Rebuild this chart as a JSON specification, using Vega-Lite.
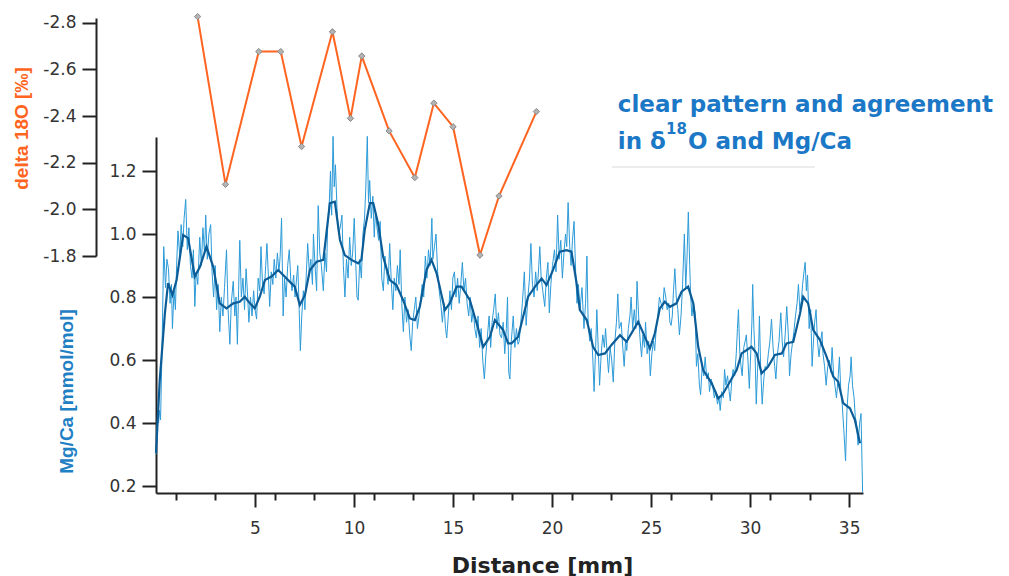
{
  "$schema": "https://vega.github.io/schema/vega-lite/v6.json",
  "width": 707,
  "height": 475,
  "autosize": {"type": "none"},
  "padding": {"left": 156, "top": 18, "right": 146, "bottom": 83},
  "background": "white",
  "config": {"view": {"stroke": null}, "axis": {"grid": false}},
  "datasets": {
    "d18o": [
      {"d": 2.10, "o": -2.826}, {"d": 3.51, "o": -2.107}, {"d": 5.19, "o": -2.676}, {"d": 6.30, "o": -2.676},
      {"d": 7.35, "o": -2.269}, {"d": 8.91, "o": -2.761}, {"d": 9.82, "o": -2.390}, {"d": 10.39, "o": -2.657},
      {"d": 11.77, "o": -2.336}, {"d": 13.07, "o": -2.136}, {"d": 14.03, "o": -2.455}, {"d": 15.00, "o": -2.354},
      {"d": 16.36, "o": -1.804}, {"d": 17.32, "o": -2.057}, {"d": 19.21, "o": -2.419}
    ],
    "notes": [
      {"t": "clear pattern and agreement"}
    ],
    "mgs": [
      {"d":0.00,"v":0.305},{"d":0.19,"v":0.537},{"d":0.45,"v":0.749},{"d":0.61,"v":0.844},{"d":0.83,"v":0.806},
      {"d":1.04,"v":0.854},{"d":1.37,"v":0.997},{"d":1.62,"v":0.987},{"d":1.96,"v":0.865},{"d":2.22,"v":0.896},
      {"d":2.55,"v":0.960},{"d":2.89,"v":0.896},{"d":3.22,"v":0.780},{"d":3.56,"v":0.764},{"d":3.90,"v":0.780},
      {"d":4.23,"v":0.785},{"d":4.48,"v":0.801},{"d":4.74,"v":0.780},{"d":4.99,"v":0.764},{"d":5.24,"v":0.801},
      {"d":5.50,"v":0.854},{"d":5.83,"v":0.865},{"d":6.17,"v":0.886},{"d":6.42,"v":0.870},{"d":6.75,"v":0.849},
      {"d":7.01,"v":0.833},{"d":7.26,"v":0.775},{"d":7.52,"v":0.806},{"d":7.77,"v":0.886},{"d":8.11,"v":0.912},
      {"d":8.45,"v":0.918},{"d":8.78,"v":1.098},{"d":9.03,"v":1.103},{"d":9.29,"v":0.981},{"d":9.53,"v":0.933},
      {"d":9.87,"v":0.918},{"d":10.21,"v":0.907},{"d":10.37,"v":0.918},{"d":10.54,"v":1.013},{"d":10.80,"v":1.098},
      {"d":10.97,"v":1.098},{"d":11.21,"v":1.034},{"d":11.47,"v":0.928},{"d":11.81,"v":0.854},{"d":12.14,"v":0.838},
      {"d":12.48,"v":0.790},{"d":12.82,"v":0.732},{"d":13.07,"v":0.727},{"d":13.32,"v":0.769},{"d":13.66,"v":0.886},
      {"d":13.91,"v":0.918},{"d":14.17,"v":0.875},{"d":14.59,"v":0.759},{"d":14.83,"v":0.780},{"d":15.18,"v":0.833},
      {"d":15.43,"v":0.833},{"d":15.85,"v":0.790},{"d":16.19,"v":0.717},{"d":16.52,"v":0.642},{"d":16.86,"v":0.674},
      {"d":17.11,"v":0.727},{"d":17.53,"v":0.695},{"d":17.78,"v":0.653},{"d":17.95,"v":0.653},{"d":18.29,"v":0.674},
      {"d":18.54,"v":0.738},{"d":18.79,"v":0.801},{"d":19.14,"v":0.833},{"d":19.47,"v":0.859},{"d":19.72,"v":0.838},
      {"d":20.05,"v":0.886},{"d":20.39,"v":0.944},{"d":20.73,"v":0.949},{"d":20.98,"v":0.944},{"d":21.24,"v":0.843},
      {"d":21.40,"v":0.759},{"d":21.75,"v":0.727},{"d":22.07,"v":0.642},{"d":22.33,"v":0.616},{"d":22.67,"v":0.621},
      {"d":23.00,"v":0.648},{"d":23.43,"v":0.679},{"d":23.76,"v":0.658},{"d":24.10,"v":0.695},{"d":24.35,"v":0.722},
      {"d":24.68,"v":0.674},{"d":24.94,"v":0.637},{"d":25.19,"v":0.685},{"d":25.44,"v":0.764},{"d":25.69,"v":0.785},
      {"d":25.95,"v":0.769},{"d":26.28,"v":0.780},{"d":26.54,"v":0.817},{"d":26.87,"v":0.833},{"d":27.13,"v":0.780},
      {"d":27.38,"v":0.642},{"d":27.63,"v":0.568},{"d":28.06,"v":0.526},{"d":28.39,"v":0.478},{"d":28.64,"v":0.494},
      {"d":28.98,"v":0.531},{"d":29.32,"v":0.568},{"d":29.57,"v":0.621},{"d":29.83,"v":0.632},{"d":30.07,"v":0.642},
      {"d":30.33,"v":0.621},{"d":30.58,"v":0.558},{"d":30.91,"v":0.579},{"d":31.25,"v":0.616},{"d":31.60,"v":0.621},
      {"d":31.84,"v":0.653},{"d":32.18,"v":0.658},{"d":32.52,"v":0.748},{"d":32.68,"v":0.801},{"d":32.93,"v":0.780},
      {"d":33.19,"v":0.695},{"d":33.52,"v":0.664},{"d":33.86,"v":0.611},{"d":34.20,"v":0.547},{"d":34.45,"v":0.531},
      {"d":34.70,"v":0.463},{"d":35.04,"v":0.447},{"d":35.29,"v":0.410},{"d":35.55,"v":0.336}
    ],
    "mg": [
      {"d":0.00,"v":0.30},{"d":0.08,"v":0.42},{"d":0.13,"v":0.40},{"d":0.18,"v":0.44},{"d":0.23,"v":0.41},{"d":0.30,"v":0.62},
      {"d":0.39,"v":0.96},{"d":0.48,"v":0.83},{"d":0.55,"v":0.92},{"d":0.63,"v":0.89},{"d":0.71,"v":0.78},{"d":0.78,"v":0.84},
      {"d":0.83,"v":0.70},{"d":0.91,"v":0.82},{"d":0.98,"v":0.76},{"d":1.04,"v":0.90},{"d":1.11,"v":1.01},{"d":1.20,"v":0.93},
      {"d":1.27,"v":1.03},{"d":1.35,"v":0.96},{"d":1.42,"v":1.05},{"d":1.50,"v":1.11},{"d":1.58,"v":0.95},{"d":1.66,"v":1.02},
      {"d":1.74,"v":0.90},{"d":1.82,"v":0.86},{"d":1.89,"v":0.95},{"d":1.96,"v":0.77},{"d":2.03,"v":0.88},{"d":2.11,"v":0.84},
      {"d":2.21,"v":0.99},{"d":2.29,"v":0.90},{"d":2.37,"v":1.02},{"d":2.45,"v":0.94},{"d":2.51,"v":1.06},{"d":2.59,"v":0.92},
      {"d":2.67,"v":1.00},{"d":2.76,"v":1.03},{"d":2.83,"v":0.88},{"d":2.91,"v":0.80},{"d":2.99,"v":0.90},{"d":3.06,"v":0.76},
      {"d":3.14,"v":0.84},{"d":3.22,"v":0.69},{"d":3.30,"v":0.80},{"d":3.38,"v":0.74},{"d":3.46,"v":0.83},{"d":3.56,"v":0.95},
      {"d":3.64,"v":0.76},{"d":3.73,"v":0.65},{"d":3.80,"v":0.78},{"d":3.90,"v":0.85},{"d":3.98,"v":0.74},{"d":4.04,"v":0.80},
      {"d":4.11,"v":0.65},{"d":4.17,"v":0.82},{"d":4.23,"v":0.98},{"d":4.31,"v":0.80},{"d":4.39,"v":0.86},{"d":4.47,"v":0.76},
      {"d":4.55,"v":0.89},{"d":4.63,"v":0.80},{"d":4.69,"v":0.72},{"d":4.77,"v":0.80},{"d":4.85,"v":0.74},{"d":4.93,"v":0.82},
      {"d":5.00,"v":0.76},{"d":5.08,"v":0.73},{"d":5.16,"v":0.86},{"d":5.24,"v":0.82},{"d":5.30,"v":0.96},{"d":5.38,"v":0.84},
      {"d":5.46,"v":0.81},{"d":5.54,"v":0.90},{"d":5.60,"v":0.97},{"d":5.68,"v":0.86},{"d":5.74,"v":0.77},{"d":5.82,"v":0.88},
      {"d":5.90,"v":0.84},{"d":5.97,"v":0.92},{"d":6.05,"v":0.86},{"d":6.13,"v":0.94},{"d":6.21,"v":0.88},{"d":6.27,"v":0.93},
      {"d":6.34,"v":1.05},{"d":6.42,"v":0.74},{"d":6.49,"v":0.86},{"d":6.57,"v":0.80},{"d":6.65,"v":0.90},{"d":6.73,"v":0.95},
      {"d":6.81,"v":0.85},{"d":6.87,"v":0.82},{"d":6.95,"v":0.87},{"d":7.02,"v":0.80},{"d":7.10,"v":0.86},{"d":7.16,"v":0.90},
      {"d":7.23,"v":0.76},{"d":7.29,"v":0.63},{"d":7.36,"v":0.74},{"d":7.44,"v":0.82},{"d":7.52,"v":0.76},{"d":7.58,"v":0.86},
      {"d":7.66,"v":0.97},{"d":7.74,"v":0.88},{"d":7.82,"v":0.92},{"d":7.90,"v":0.84},{"d":7.95,"v":1.00},{"d":8.03,"v":0.90},
      {"d":8.11,"v":0.82},{"d":8.19,"v":1.09},{"d":8.27,"v":0.94},{"d":8.35,"v":0.90},{"d":8.45,"v":0.82},{"d":8.53,"v":0.94},
      {"d":8.61,"v":0.88},{"d":8.67,"v":1.03},{"d":8.75,"v":1.10},{"d":8.81,"v":1.20},{"d":8.87,"v":1.06},{"d":8.94,"v":1.31},
      {"d":9.00,"v":1.15},{"d":9.06,"v":1.22},{"d":9.14,"v":1.08},{"d":9.22,"v":1.00},{"d":9.30,"v":1.02},{"d":9.39,"v":1.06},
      {"d":9.46,"v":0.90},{"d":9.54,"v":0.80},{"d":9.62,"v":0.92},{"d":9.70,"v":0.86},{"d":9.78,"v":0.99},{"d":9.86,"v":0.90},
      {"d":9.93,"v":0.94},{"d":10.01,"v":1.05},{"d":10.09,"v":0.90},{"d":10.15,"v":0.80},{"d":10.21,"v":0.79},{"d":10.29,"v":0.92},
      {"d":10.37,"v":0.86},{"d":10.45,"v":1.00},{"d":10.53,"v":1.05},{"d":10.59,"v":1.14},{"d":10.67,"v":1.31},{"d":10.73,"v":1.10},
      {"d":10.79,"v":1.17},{"d":10.87,"v":1.05},{"d":10.95,"v":1.12},{"d":11.02,"v":0.99},{"d":11.08,"v":1.07},{"d":11.16,"v":1.02},
      {"d":11.24,"v":0.98},{"d":11.32,"v":1.04},{"d":11.40,"v":0.86},{"d":11.48,"v":0.82},{"d":11.56,"v":0.93},{"d":11.64,"v":0.88},
      {"d":11.72,"v":0.84},{"d":11.80,"v":0.97},{"d":11.88,"v":0.85},{"d":11.96,"v":0.76},{"d":12.03,"v":0.86},{"d":12.11,"v":0.82},
      {"d":12.19,"v":0.90},{"d":12.27,"v":0.84},{"d":12.33,"v":0.95},{"d":12.41,"v":0.78},{"d":12.49,"v":0.69},{"d":12.57,"v":0.80},
      {"d":12.65,"v":0.72},{"d":12.73,"v":0.76},{"d":12.81,"v":0.68},{"d":12.89,"v":0.63},{"d":12.96,"v":0.72},{"d":13.04,"v":0.76},
      {"d":13.12,"v":0.80},{"d":13.20,"v":0.70},{"d":13.28,"v":0.74},{"d":13.36,"v":0.79},{"d":13.44,"v":0.84},{"d":13.52,"v":0.80},
      {"d":13.60,"v":0.93},{"d":13.68,"v":0.86},{"d":13.76,"v":0.95},{"d":13.84,"v":0.90},{"d":13.93,"v":1.05},{"d":13.98,"v":0.92},
      {"d":14.06,"v":0.96},{"d":14.14,"v":1.00},{"d":14.22,"v":0.88},{"d":14.30,"v":0.82},{"d":14.38,"v":0.78},{"d":14.46,"v":0.72},
      {"d":14.54,"v":0.78},{"d":14.62,"v":0.70},{"d":14.68,"v":0.67},{"d":14.76,"v":0.74},{"d":14.84,"v":0.82},{"d":14.92,"v":0.76},
      {"d":14.99,"v":0.86},{"d":15.07,"v":0.88},{"d":15.15,"v":0.80},{"d":15.23,"v":0.86},{"d":15.31,"v":0.78},{"d":15.39,"v":0.84},
      {"d":15.47,"v":0.91},{"d":15.55,"v":0.82},{"d":15.63,"v":0.86},{"d":15.71,"v":0.78},{"d":15.79,"v":0.74},{"d":15.86,"v":0.80},
      {"d":15.94,"v":0.72},{"d":16.02,"v":0.76},{"d":16.10,"v":0.70},{"d":16.18,"v":0.67},{"d":16.26,"v":0.74},{"d":16.34,"v":0.64},
      {"d":16.42,"v":0.70},{"d":16.50,"v":0.60},{"d":16.58,"v":0.54},{"d":16.66,"v":0.62},{"d":16.74,"v":0.68},{"d":16.82,"v":0.74},
      {"d":16.90,"v":0.64},{"d":16.97,"v":0.72},{"d":17.05,"v":0.76},{"d":17.13,"v":0.81},{"d":17.21,"v":0.70},{"d":17.29,"v":0.75},
      {"d":17.37,"v":0.68},{"d":17.45,"v":0.67},{"d":17.53,"v":0.72},{"d":17.61,"v":0.62},{"d":17.69,"v":0.70},{"d":17.75,"v":0.80},
      {"d":17.81,"v":0.56},{"d":17.87,"v":0.54},{"d":17.94,"v":0.66},{"d":18.04,"v":0.74},{"d":18.12,"v":0.64},{"d":18.20,"v":0.70},
      {"d":18.28,"v":0.65},{"d":18.34,"v":0.66},{"d":18.42,"v":0.72},{"d":18.50,"v":0.78},{"d":18.60,"v":0.88},{"d":18.69,"v":0.71},
      {"d":18.78,"v":0.80},{"d":18.86,"v":0.86},{"d":18.93,"v":0.97},{"d":19.01,"v":0.84},{"d":19.09,"v":0.80},{"d":19.17,"v":0.88},
      {"d":19.25,"v":0.82},{"d":19.33,"v":0.90},{"d":19.38,"v":0.96},{"d":19.45,"v":0.86},{"d":19.53,"v":0.82},{"d":19.63,"v":0.77},
      {"d":19.71,"v":0.86},{"d":19.79,"v":0.91},{"d":19.86,"v":0.75},{"d":19.94,"v":0.84},{"d":20.02,"v":0.90},{"d":20.12,"v":0.95},
      {"d":20.20,"v":0.88},{"d":20.28,"v":1.06},{"d":20.36,"v":0.92},{"d":20.44,"v":0.98},{"d":20.52,"v":0.86},{"d":20.60,"v":0.94},
      {"d":20.68,"v":1.00},{"d":20.74,"v":0.96},{"d":20.81,"v":1.10},{"d":20.89,"v":0.96},{"d":20.96,"v":0.90},{"d":21.03,"v":0.98},
      {"d":21.11,"v":1.04},{"d":21.19,"v":0.88},{"d":21.26,"v":0.78},{"d":21.33,"v":0.84},{"d":21.41,"v":0.76},{"d":21.51,"v":0.83},
      {"d":21.61,"v":0.70},{"d":21.69,"v":0.78},{"d":21.76,"v":0.93},{"d":21.82,"v":0.72},{"d":21.90,"v":0.66},{"d":21.98,"v":0.70},
      {"d":22.06,"v":0.60},{"d":22.12,"v":0.50},{"d":22.20,"v":0.64},{"d":22.26,"v":0.76},{"d":22.34,"v":0.62},{"d":22.40,"v":0.52},
      {"d":22.48,"v":0.62},{"d":22.56,"v":0.68},{"d":22.64,"v":0.64},{"d":22.70,"v":0.70},{"d":22.78,"v":0.62},{"d":22.85,"v":0.56},
      {"d":22.93,"v":0.64},{"d":23.01,"v":0.60},{"d":23.09,"v":0.53},{"d":23.17,"v":0.66},{"d":23.25,"v":0.72},{"d":23.32,"v":0.81},
      {"d":23.39,"v":0.70},{"d":23.49,"v":0.72},{"d":23.57,"v":0.64},{"d":23.64,"v":0.58},{"d":23.71,"v":0.66},{"d":23.77,"v":0.63},
      {"d":23.85,"v":0.70},{"d":23.93,"v":0.74},{"d":23.99,"v":0.80},{"d":24.07,"v":0.70},{"d":24.15,"v":0.76},{"d":24.23,"v":0.70},
      {"d":24.29,"v":0.85},{"d":24.37,"v":0.74},{"d":24.45,"v":0.66},{"d":24.52,"v":0.61},{"d":24.59,"v":0.68},{"d":24.67,"v":0.64},
      {"d":24.72,"v":0.72},{"d":24.80,"v":0.62},{"d":24.88,"v":0.66},{"d":24.96,"v":0.55},{"d":25.04,"v":0.62},{"d":25.12,"v":0.66},
      {"d":25.18,"v":0.63},{"d":25.26,"v":0.70},{"d":25.34,"v":0.74},{"d":25.42,"v":0.80},{"d":25.50,"v":0.78},{"d":25.58,"v":0.76},
      {"d":25.66,"v":0.83},{"d":25.74,"v":0.80},{"d":25.81,"v":0.76},{"d":25.89,"v":0.78},{"d":25.95,"v":0.72},{"d":26.01,"v":0.71},
      {"d":26.07,"v":0.74},{"d":26.13,"v":0.82},{"d":26.20,"v":0.89},{"d":26.27,"v":0.80},{"d":26.35,"v":0.76},{"d":26.43,"v":0.68},
      {"d":26.51,"v":0.74},{"d":26.59,"v":0.84},{"d":26.68,"v":1.00},{"d":26.75,"v":0.83},{"d":26.81,"v":0.92},{"d":26.88,"v":1.07},
      {"d":26.95,"v":0.90},{"d":27.00,"v":0.80},{"d":27.06,"v":0.74},{"d":27.14,"v":0.78},{"d":27.22,"v":0.75},{"d":27.29,"v":0.58},
      {"d":27.36,"v":0.62},{"d":27.44,"v":0.52},{"d":27.50,"v":0.49},{"d":27.58,"v":0.58},{"d":27.66,"v":0.55},{"d":27.73,"v":0.61},
      {"d":27.81,"v":0.54},{"d":27.89,"v":0.56},{"d":27.95,"v":0.50},{"d":28.03,"v":0.54},{"d":28.11,"v":0.52},{"d":28.19,"v":0.48},
      {"d":28.27,"v":0.50},{"d":28.35,"v":0.46},{"d":28.43,"v":0.48},{"d":28.49,"v":0.44},{"d":28.57,"v":0.50},{"d":28.65,"v":0.48},
      {"d":28.71,"v":0.57},{"d":28.78,"v":0.52},{"d":28.86,"v":0.55},{"d":28.94,"v":0.50},{"d":29.00,"v":0.47},{"d":29.08,"v":0.54},
      {"d":29.14,"v":0.57},{"d":29.22,"v":0.55},{"d":29.30,"v":0.62},{"d":29.36,"v":0.70},{"d":29.41,"v":0.76},{"d":29.48,"v":0.62},
      {"d":29.54,"v":0.58},{"d":29.60,"v":0.55},{"d":29.68,"v":0.64},{"d":29.75,"v":0.66},{"d":29.81,"v":0.68},{"d":29.89,"v":0.60},
      {"d":29.96,"v":0.51},{"d":30.03,"v":0.62},{"d":30.09,"v":0.72},{"d":30.13,"v":0.84},{"d":30.19,"v":0.70},{"d":30.25,"v":0.62},
      {"d":30.31,"v":0.46},{"d":30.37,"v":0.56},{"d":30.43,"v":0.64},{"d":30.47,"v":0.74},{"d":30.53,"v":0.58},{"d":30.61,"v":0.46},
      {"d":30.69,"v":0.54},{"d":30.76,"v":0.58},{"d":30.84,"v":0.57},{"d":30.92,"v":0.62},{"d":31.00,"v":0.66},{"d":31.08,"v":0.73},
      {"d":31.16,"v":0.64},{"d":31.24,"v":0.58},{"d":31.30,"v":0.54},{"d":31.38,"v":0.62},{"d":31.46,"v":0.66},{"d":31.55,"v":0.75},
      {"d":31.62,"v":0.66},{"d":31.69,"v":0.61},{"d":31.77,"v":0.68},{"d":31.85,"v":0.77},{"d":31.93,"v":0.68},{"d":31.99,"v":0.55},
      {"d":32.07,"v":0.62},{"d":32.15,"v":0.66},{"d":32.21,"v":0.69},{"d":32.29,"v":0.74},{"d":32.37,"v":0.78},{"d":32.44,"v":0.84},
      {"d":32.51,"v":0.76},{"d":32.59,"v":0.79},{"d":32.65,"v":0.84},{"d":32.72,"v":0.88},{"d":32.78,"v":0.91},{"d":32.84,"v":0.82},
      {"d":32.90,"v":0.87},{"d":32.98,"v":0.70},{"d":33.06,"v":0.76},{"d":33.13,"v":0.58},{"d":33.20,"v":0.66},{"d":33.26,"v":0.72},
      {"d":33.33,"v":0.76},{"d":33.40,"v":0.66},{"d":33.48,"v":0.61},{"d":33.56,"v":0.66},{"d":33.63,"v":0.69},{"d":33.68,"v":0.62},
      {"d":33.76,"v":0.58},{"d":33.84,"v":0.52},{"d":33.92,"v":0.58},{"d":34.00,"v":0.60},{"d":34.08,"v":0.56},{"d":34.14,"v":0.64},
      {"d":34.22,"v":0.55},{"d":34.28,"v":0.52},{"d":34.36,"v":0.48},{"d":34.44,"v":0.54},{"d":34.51,"v":0.61},{"d":34.58,"v":0.50},
      {"d":34.65,"v":0.46},{"d":34.73,"v":0.38},{"d":34.82,"v":0.28},{"d":34.89,"v":0.44},{"d":34.97,"v":0.52},{"d":35.05,"v":0.55},
      {"d":35.10,"v":0.61},{"d":35.17,"v":0.52},{"d":35.25,"v":0.48},{"d":35.31,"v":0.42},{"d":35.37,"v":0.40},{"d":35.45,"v":0.33},
      {"d":35.53,"v":0.40},{"d":35.60,"v":0.43},{"d":35.68,"v":0.18}
    ]
  },
  "layer": [
    {
      "layer": [
        {
          "data": {"name": "mg"},
          "mark": {"type": "line", "color": "#2b9ad8", "strokeWidth": 1, "clip": false},
          "encoding": {
            "x": {
              "field": "d", "type": "quantitative",
              "scale": {"domain": [0, 35.7], "nice": false, "zero": false},
              "axis": {
                "orient": "bottom", "values": [5, 10, 15, 20, 25, 30, 35], "format": "d",
                "tickSize": 14, "tickWidth": 2, "tickColor": "#222", "domainColor": "#222", "domainWidth": 2,
                "labelFont": "DejaVu Sans", "labelFontSize": 17, "labelColor": "#333", "labelPadding": 13,
                "labelFlush": false, "labelOverlap": false,
                "title": "Distance [mm]", "titleFont": "DejaVu Sans", "titleFontSize": 22, "titleFontWeight": "bold",
                "titleColor": "#222", "titleX": 386, "titleY": 79, "titleBaseline": "alphabetic", "titleAlign": "center"
              }
            },
            "y": {
              "field": "v", "type": "quantitative",
              "scale": {"domain": [0.178, 1.308], "range": [475, 119], "nice": false, "zero": false},
              "axis": {
                "orient": "left", "values": [0.2, 0.4, 0.6, 0.8, 1.0, 1.2], "format": ".1f",
                "tickSize": 14, "tickWidth": 2, "tickColor": "#222", "domainColor": "#222", "domainWidth": 2,
                "labelFont": "DejaVu Sans", "labelFontSize": 17, "labelColor": "#333", "labelPadding": 6,
                "title": "Mg/Ca [mmol/mol]", "titleFont": "Liberation Sans", "titleFontSize": 19, "titleFontWeight": "bold",
                "titleColor": "#1f80c4", "titleX": -80, "titleY": 373, "titleAngle": 270, "titleBaseline": "bottom", "titleAlign": "center"
              }
            }
          }
        },
        {
          "data": {"name": "mgs"},
          "mark": {"type": "line", "color": "#0c5d97", "strokeWidth": 2.2, "clip": false},
          "encoding": {
            "x": {"field": "d", "type": "quantitative"},
            "y": {"field": "v", "type": "quantitative"}
          }
        }
      ]
    },
    {
      "layer": [
        {
          "data": {"name": "d18o"},
          "mark": {"type": "line", "color": "#ff6420", "strokeWidth": 2, "clip": false},
          "encoding": {
            "x": {
              "field": "d", "type": "quantitative",
              "scale": {"domain": [0, 35.7], "nice": false, "zero": false},
              "axis": {
                "orient": "bottom", "values": [1,2,3,4,6,7,8,9,11,12,13,14,16,17,18,19,21,22,23,24,26,27,28,29,31,32,33,34],
                "tickSize": 7, "tickWidth": 2, "tickColor": "#222", "domain": false, "labels": false, "title": null
              }
            },
            "y": {
              "field": "o", "type": "quantitative",
              "scale": {"domain": [-2.82, -1.8], "range": [0, 238], "nice": false, "zero": false},
              "axis": {
                "orient": "left", "offset": 60, "values": [-2.8, -2.6, -2.4, -2.2, -2.0, -1.8],
                "labelExpr": "replace(format(datum.value, '.1f'), '\u2212', '-')",
                "tickSize": 14, "tickWidth": 2, "tickColor": "#222", "domainColor": "#222", "domainWidth": 2,
                "labelFont": "DejaVu Sans", "labelFontSize": 17, "labelColor": "#333", "labelPadding": 6,
                "title": "delta 18O [‰]", "titleFont": "Liberation Sans", "titleFontSize": 19, "titleFontWeight": "bold",
                "titleColor": "#ff6420", "titleX": -65, "titleY": 110, "titleAngle": 270, "titleBaseline": "bottom", "titleAlign": "center"
              }
            }
          }
        },
        {
          "data": {"name": "d18o"},
          "mark": {"type": "point", "shape": "diamond", "size": 40, "filled": true, "color": "#b3b3b3", "stroke": "#8a8a8a", "strokeWidth": 1, "opacity": 1, "clip": false},
          "encoding": {
            "x": {"field": "d", "type": "quantitative"},
            "y": {"field": "o", "type": "quantitative"}
          }
        },
        {
          "data": {"name": "notes"},
          "mark": {"type": "text", "align": "left", "baseline": "alphabetic", "font": "DejaVu Sans", "fontSize": 23, "fontWeight": "bold", "color": "#1b78c6", "text": "clear pattern and agreement"},
          "encoding": {"x": {"datum": 23.32, "type": "quantitative"}, "y": {"datum": -2.4184, "type": "quantitative"}}
        },
        {
          "data": {"name": "notes"},
          "mark": {"type": "text", "align": "left", "baseline": "alphabetic", "font": "DejaVu Sans", "fontSize": 23, "fontWeight": "bold", "color": "#1b78c6", "text": "in δ"},
          "encoding": {"x": {"datum": 23.32, "type": "quantitative"}, "y": {"datum": -2.2586, "type": "quantitative"}}
        },
        {
          "data": {"name": "notes"},
          "mark": {"type": "text", "align": "left", "baseline": "alphabetic", "font": "DejaVu Sans", "fontSize": 15, "fontWeight": "bold", "color": "#1b78c6", "text": "18"},
          "encoding": {"x": {"datum": 25.75, "type": "quantitative"}, "y": {"datum": -2.3229, "type": "quantitative"}}
        },
        {
          "data": {"name": "notes"},
          "mark": {"type": "text", "align": "left", "baseline": "alphabetic", "font": "DejaVu Sans", "fontSize": 23, "fontWeight": "bold", "color": "#1b78c6", "text": "O and Mg/Ca"},
          "encoding": {"x": {"datum": 26.86, "type": "quantitative"}, "y": {"datum": -2.2586, "type": "quantitative"}}
        },
        {
          "data": {"name": "notes"},
          "mark": {"type": "rule", "color": "#e6e6e6", "strokeWidth": 1.5},
          "encoding": {"x": {"datum": 23.02, "type": "quantitative"}, "x2": {"datum": 33.27}, "y": {"datum": -2.1814, "type": "quantitative"}}
        }
      ]
    }
  ],
  "resolve": {"scale": {"y": "independent"}, "axis": {"x": "independent", "y": "independent"}}
}
